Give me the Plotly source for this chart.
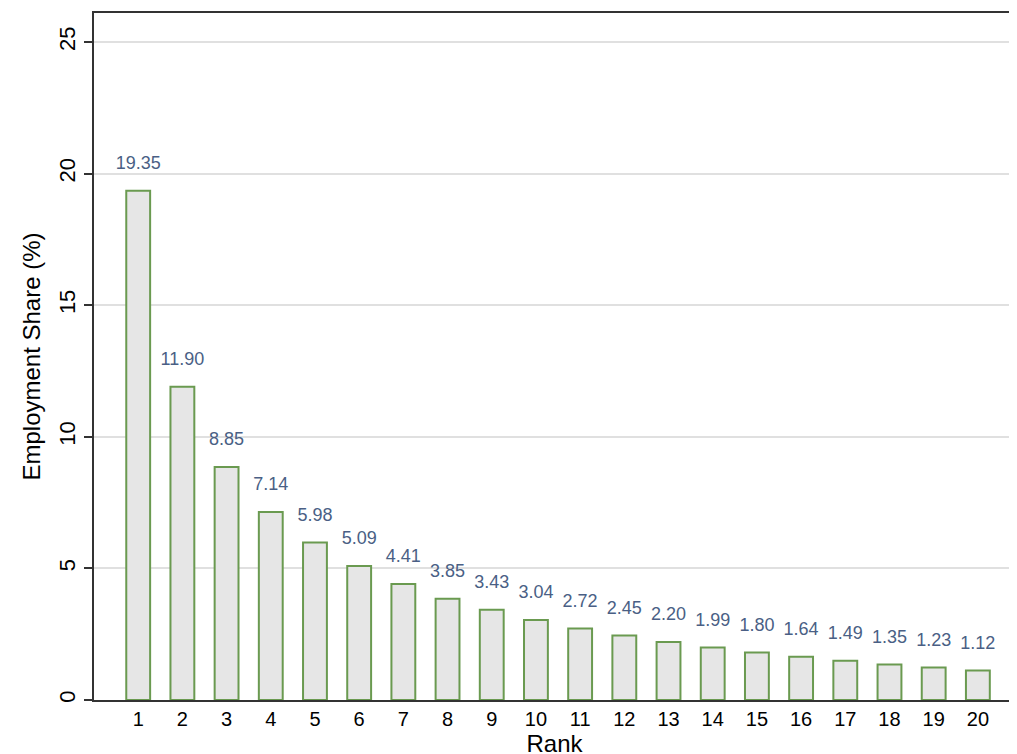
import plotly.graph_objects as go

ranks = list(range(1, 21))
shares = [19.35, 11.90, 8.85, 7.14, 5.98, 5.09, 4.41, 3.85, 3.43, 3.04,
          2.72, 2.45, 2.20, 1.99, 1.80, 1.64, 1.49, 1.35, 1.23, 1.12]
labels = ["%.2f" % v for v in shares]

fig = go.Figure()
fig.add_trace(go.Bar(x=ranks, y=shares, width=0.54,
                     marker_color='#e6e6e6',
                     marker_line_color='#6a9a50', marker_line_width=2))
# value labels above bars
fig.add_trace(go.Scatter(x=ranks, y=shares, mode='markers+text', text=labels,
                         textposition='top center', cliponaxis=False,
                         marker=dict(size=26, color='rgba(0,0,0,0)'),
                         textfont=dict(color='#4a5f85', size=18),
                         hoverinfo='skip'))

fig.update_layout(
    width=1017, height=754,
    margin=dict(l=86, r=10, t=5, b=62),
    plot_bgcolor='white', paper_bgcolor='white',
    font=dict(family='Liberation Sans, Arial', size=20, color='black'),
    showlegend=False,
)
fig.update_xaxes(range=[0.0, 20.84], tickmode='array', tickvals=ranks,
                 ticks='', showgrid=False, showline=True, linecolor='#333',
                 linewidth=2, mirror=True, automargin=False,
                 title=dict(text='Rank', standoff=4))
fig.update_yaxes(range=[0, 26.1], tickvals=[0, 5, 10, 15, 20, 25], tickangle=-90,
                 ticks='outside', ticklen=8, tickcolor='#333', tickwidth=2,
                 tickfont=dict(size=22),
                 showgrid=True, gridcolor='#e0e0e0', gridwidth=2, zeroline=False,
                 showline=True, linecolor='#333', linewidth=2, mirror=True,
                 automargin=False,
                 title=dict(text='Employment Share (%)', standoff=8))

fig.write_html("out.html")
